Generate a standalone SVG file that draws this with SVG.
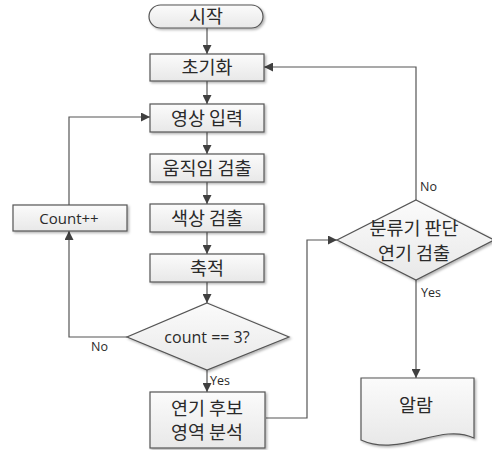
<svg xmlns="http://www.w3.org/2000/svg" width="492" height="450" viewBox="0 0 492 450">
<defs>
<linearGradient id="g" x1="0" y1="0" x2="0" y2="1">
<stop offset="0" stop-color="#fbfbfb"/>
<stop offset="1" stop-color="#e8e8e8"/>
</linearGradient>
<filter id="sh" x="-10%" y="-10%" width="130%" height="140%">
<feDropShadow dx="1.5" dy="1.5" stdDeviation="1" flood-color="#000" flood-opacity="0.3"/>
</filter>
<marker id="ah" viewBox="0 0 10 10" refX="10" refY="5" markerWidth="9" markerHeight="9" markerUnits="userSpaceOnUse" orient="auto">
<path d="M0,0 L10,5 L0,10 z" fill="#404040"/>
</marker>
</defs>
<style>
.n{fill:url(#g);stroke:#555;stroke-width:1.2;filter:url(#sh)}
.k{font-family:"Noto Sans CJK KR","Noto Sans",sans-serif;font-size:18.5px;fill:#2a2a2a;text-anchor:middle}
.e{font-family:"Open Sans","Noto Sans",sans-serif;font-size:15px;fill:#2a2a2a;text-anchor:middle}
.l{font-family:"Open Sans","Noto Sans",sans-serif;font-size:12.5px;fill:#2a2a2a}
.c{fill:none;stroke:#555;stroke-width:1.2}
</style>
<rect width="492" height="450" fill="#fff"/>
<g id="connectors">
<path class="c" d="M207,28 V54" marker-end="url(#ah)"/>
<path class="c" d="M207,81 V104" marker-end="url(#ah)"/>
<path class="c" d="M207,132 V154" marker-end="url(#ah)"/>
<path class="c" d="M207,182 V204" marker-end="url(#ah)"/>
<path class="c" d="M207,232 V254" marker-end="url(#ah)"/>
<path class="c" d="M207,282 V303" marker-end="url(#ah)"/>
<path class="c" d="M207,370 V392" marker-end="url(#ah)"/>
<path class="c" d="M127,337 H69 V231" marker-end="url(#ah)"/>
<path class="c" d="M69,205 V117 H150" marker-end="url(#ah)"/>
<path class="c" d="M266,418 H307 V240 H337" marker-end="url(#ah)"/>
<path class="c" d="M416,200 V67 H264" marker-end="url(#ah)"/>
<path class="c" d="M416,280 V378" marker-end="url(#ah)"/>
<text class="l" x="420" y="191">No</text>
<text class="l" x="421" y="297">Yes</text>
<text class="l" x="91" y="351">No</text>
<text class="l" x="210" y="385">Yes</text>
</g>
<g id="start">
<rect class="n" x="149" y="5" width="114" height="23" rx="11.5"/>
<text class="k" x="206" y="23">시작</text>
</g>
<g id="init">
<rect class="n" x="150" y="54" width="114" height="27"/>
<text class="k" x="207" y="74">초기화</text>
</g>
<g id="input">
<rect class="n" x="150" y="104" width="114" height="28"/>
<text class="k" x="207" y="124.5">영상 입력</text>
</g>
<g id="motion">
<rect class="n" x="150" y="154" width="114" height="28"/>
<text class="k" x="207" y="174.5">움직임 검출</text>
</g>
<g id="color">
<rect class="n" x="150" y="204" width="114" height="28"/>
<text class="k" x="207" y="224.5">색상 검출</text>
</g>
<g id="accum">
<rect class="n" x="150" y="254" width="114" height="28"/>
<text class="k" x="207" y="274.5">축적</text>
</g>
<g id="count">
<rect class="n" x="13" y="205" width="114" height="26"/>
<text class="e" x="69" y="223.5">Count++</text>
</g>
<g id="check">
<path class="n" d="M207,303 L289,337 L207,370 L127,337 Z"/>
<text class="e" x="207" y="342.5" style="font-size:16px">count == 3?</text>
</g>
<g id="candidate">
<rect class="n" x="150" y="392" width="115" height="56"/>
<text class="k" x="207" y="414.5">연기 후보</text>
<text class="k" x="207" y="439">영역 분석</text>
</g>
<g id="classify">
<path class="n" d="M416,200 L494,240 L416,280 L337,240 Z"/>
<text class="k" x="414" y="235">분류기 판단</text>
<text class="k" x="414" y="260">연기 검출</text>
</g>
<g id="alarm">
<path class="n" d="M361,378 H474 V438 C440,422 400,458 361,440 Z"/>
<text class="k" x="416" y="412">알람</text>
</g>
</svg>
